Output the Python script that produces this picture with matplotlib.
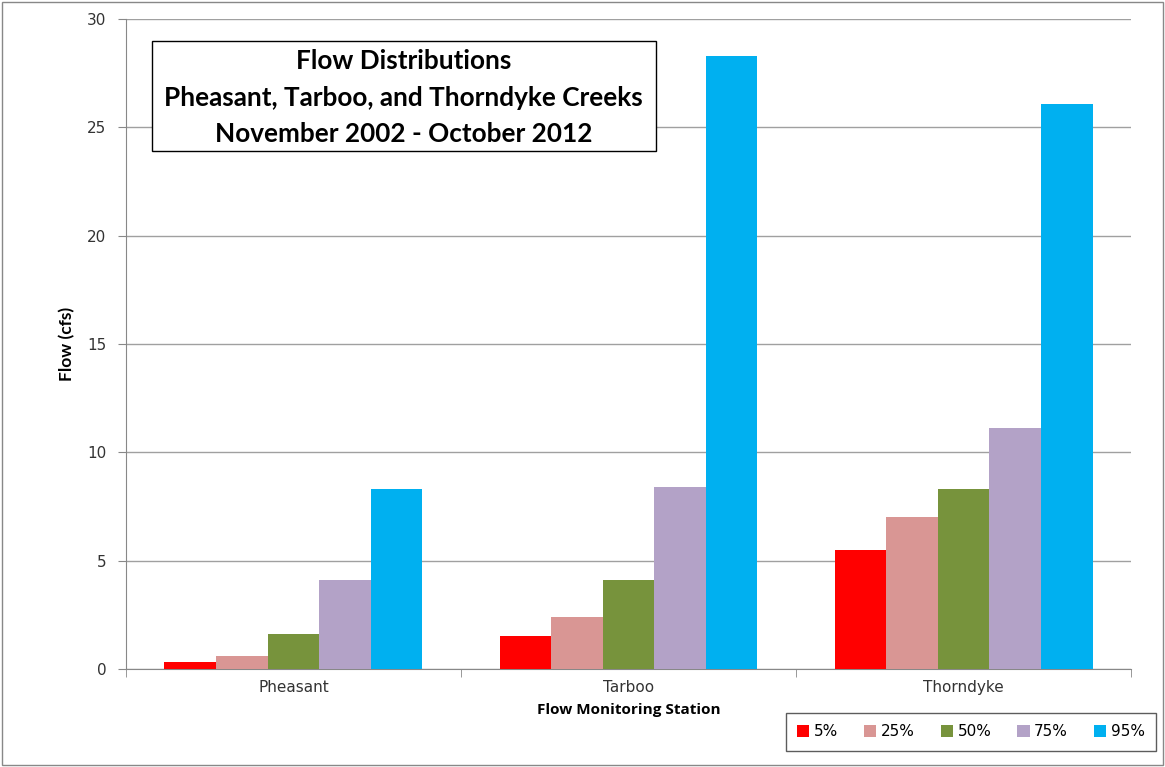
import numpy as np
import matplotlib.pyplot as plt
from matplotlib.patches import Rectangle

stations = ["Pheasant", "Tarboo", "Thorndyke"]
percentiles = ["5%", "25%", "50%", "75%", "95%"]
flow_5 = [0.33, 1.5, 5.5]
flow_25 = [0.6, 2.4, 7.0]
flow_50 = [1.6, 4.1, 8.3]
flow_75 = [4.1, 8.4, 11.1]
flow_95 = [8.3, 28.3, 26.1]
colors = ["#ff0000", "#d99694", "#77933c", "#b3a2c7", "#00b0f0"]
title_lines = ["Flow Distributions",
               "Pheasant, Tarboo, and Thorndyke Creeks",
               "November 2002 - October 2012"]

series = [flow_5, flow_25, flow_50, flow_75, flow_95]

fig = plt.figure(figsize=(11.65, 7.67), dpi=100)
# grey border round the whole chart
fig.patches.append(Rectangle((0.002, 0.002), 0.996, 0.996, transform=fig.transFigure,
                             fill=False, edgecolor="#888888", linewidth=1.0))
ax = fig.add_axes([0.108, 0.128, 0.863, 0.847])

x = np.arange(len(stations))
w = 1 / 6.5
for i, (vals, c) in enumerate(zip(series, colors)):
    ax.bar(x + (i - 2) * w, vals, width=w, color=c, label=percentiles[i], zorder=3)

ax.set_xlim(-0.5, 2.5)
ax.set_ylim(0, 30)
ax.set_yticks(range(0, 31, 5))
ax.grid(axis="y", color="#a0a0a0", linewidth=1.0, zorder=0)
ax.set_xticks(x)
ax.set_xticklabels(stations, fontsize=11, family="DejaVu Sans", color="#333333")
ax.set_xticks([-0.5, 0.5, 1.5, 2.5], minor=True)
ax.tick_params(axis="x", which="major", length=0, pad=8)
ax.tick_params(axis="x", which="minor", length=6, color="#888888", direction="out")
ax.tick_params(axis="y", length=6, color="#888888", labelsize=11, labelcolor="#333333", pad=8)
for lbl in ax.get_yticklabels():
    lbl.set_family("DejaVu Sans")

for s in ["top", "right"]:
    ax.spines[s].set_visible(False)
for s in ["left", "bottom"]:
    ax.spines[s].set_color("#888888")

ax.set_ylabel("Flow (cfs)", fontsize=12.5, fontweight="bold", family="Lato")
ax.yaxis.set_label_coords(-0.0507, 0.5)
ax.set_xlabel("Flow Monitoring Station", fontsize=11, fontweight="bold", family="Open Sans", labelpad=6)

# title box inside the plot
ax.add_patch(Rectangle((0.0259, 0.797), 0.5015, 0.169, transform=ax.transAxes,
                       facecolor="white", edgecolor="black", linewidth=1.0, zorder=5))
for line, ypos in zip(title_lines, [0.935, 0.878, 0.824]):
    ax.text(0.2765, ypos, line, transform=ax.transAxes, ha="center", va="center",
            fontsize=18.8, fontweight="bold", family="Lato", zorder=6)

leg = fig.legend(loc="center", ncol=5, fontsize=11, frameon=True, fancybox=False,
                 edgecolor="#333333", handlelength=0.8, handleheight=0.8,
                 handletextpad=0.3, columnspacing=1.7, borderpad=0.75)
leg.set_bbox_to_anchor((971 / 1165, 1 - 732 / 767), transform=fig.transFigure)
leg.get_frame().set_linewidth(1.0)

fig.savefig("out.png", dpi=100)
